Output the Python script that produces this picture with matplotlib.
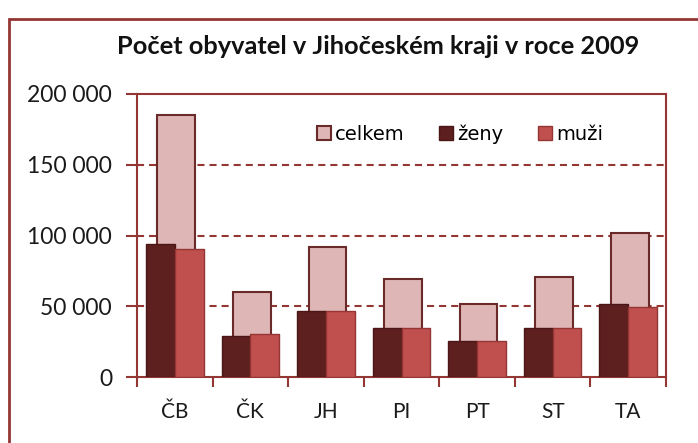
import matplotlib.pyplot as plt
import matplotlib.patches as mpatches
import matplotlib.ticker as mticker
import numpy as np

plt.rcParams['font.family'] = ['Lato', 'DejaVu Sans']

kraje = ['ČB', 'ČK', 'JH', 'PI', 'PT', 'ST', 'TA']
celkem = [185000, 60400, 92000, 69000, 51600, 70600, 102100]
zeny = [94200, 29100, 46700, 34300, 25400, 34300, 51900]
muzi = [90400, 30500, 46400, 34300, 25400, 34500, 49800]

c_celkem = '#DFB6B6'
c_zeny = '#5E1F1F'
c_muzi = '#C0504D'
c_osa = '#943634'

fig = plt.figure(figsize=(6.98, 4.43), dpi=100)
ax = fig.add_axes([137 / 698, 1 - 377 / 443, (666 - 137) / 698, (377 - 94) / 443])

x = np.arange(len(kraje))
ax.bar(x + 0.02, celkem, width=0.5, color=c_celkem, edgecolor='#6B2A2A', linewidth=1.5, zorder=2, label='celkem')
ax.bar(x - 0.19, zeny, width=0.38, color=c_zeny, edgecolor='#4A1616', linewidth=1, zorder=3, label='ženy')
ax.bar(x + 0.19, muzi, width=0.38, color=c_muzi, edgecolor='#943634', linewidth=1, zorder=3, label='muži')

ax.set_xlim(-0.5, len(kraje) - 0.5)
ax.set_ylim(0, 200000)
ax.set_yticks([0, 50000, 100000, 150000, 200000])
ax.yaxis.set_major_formatter(mticker.FuncFormatter(lambda v, p: f'{int(v):,}'.replace(',', ' ')))
ax.set_xticks(x)
ax.set_xticklabels(kraje)
ax.set_xticks(np.arange(-0.5, len(kraje)), minor=True)
ax.tick_params(axis='x', which='major', length=0, pad=18, labelsize=15)
ax.tick_params(axis='x', which='minor', length=7, color=c_osa, width=1.5)
ax.tick_params(axis='y', length=8, color=c_osa, width=1.5, direction='out', pad=10, labelsize=16.5)
for lbl in ax.get_yticklabels() + ax.get_xticklabels():
    lbl.set_color('#1a1a1a')

for s in ax.spines.values():
    s.set_color(c_osa)
    s.set_linewidth(1.5)

for v in [50000, 100000, 150000]:
    ax.axhline(v, color=c_osa, linestyle=(0, (3.4, 2.4)), linewidth=1.5, zorder=1)

ax.legend(loc='upper right', bbox_to_anchor=(0.914, 0.955), ncol=3, frameon=False,
          prop={'family': 'DejaVu Sans', 'size': 14}, handlelength=0.75, handleheight=0.75,
          handletextpad=0.2, columnspacing=1.75, labelspacing=0.2)

fig.text(378 / 698, 1 - 46 / 443, 'Počet obyvatel v Jihočeském kraji v roce 2009',
         ha='center', va='center', fontsize=18.3, fontweight='bold', color='#111111')

# ramecek grafu
fig.patches.append(mpatches.Rectangle((9 / 698, -0.05), 1.2, 1 - 19 / 443 + 0.05,
                                      transform=fig.transFigure, fill=False,
                                      edgecolor=c_osa, linewidth=2))

fig.savefig('out.png', dpi=100)
